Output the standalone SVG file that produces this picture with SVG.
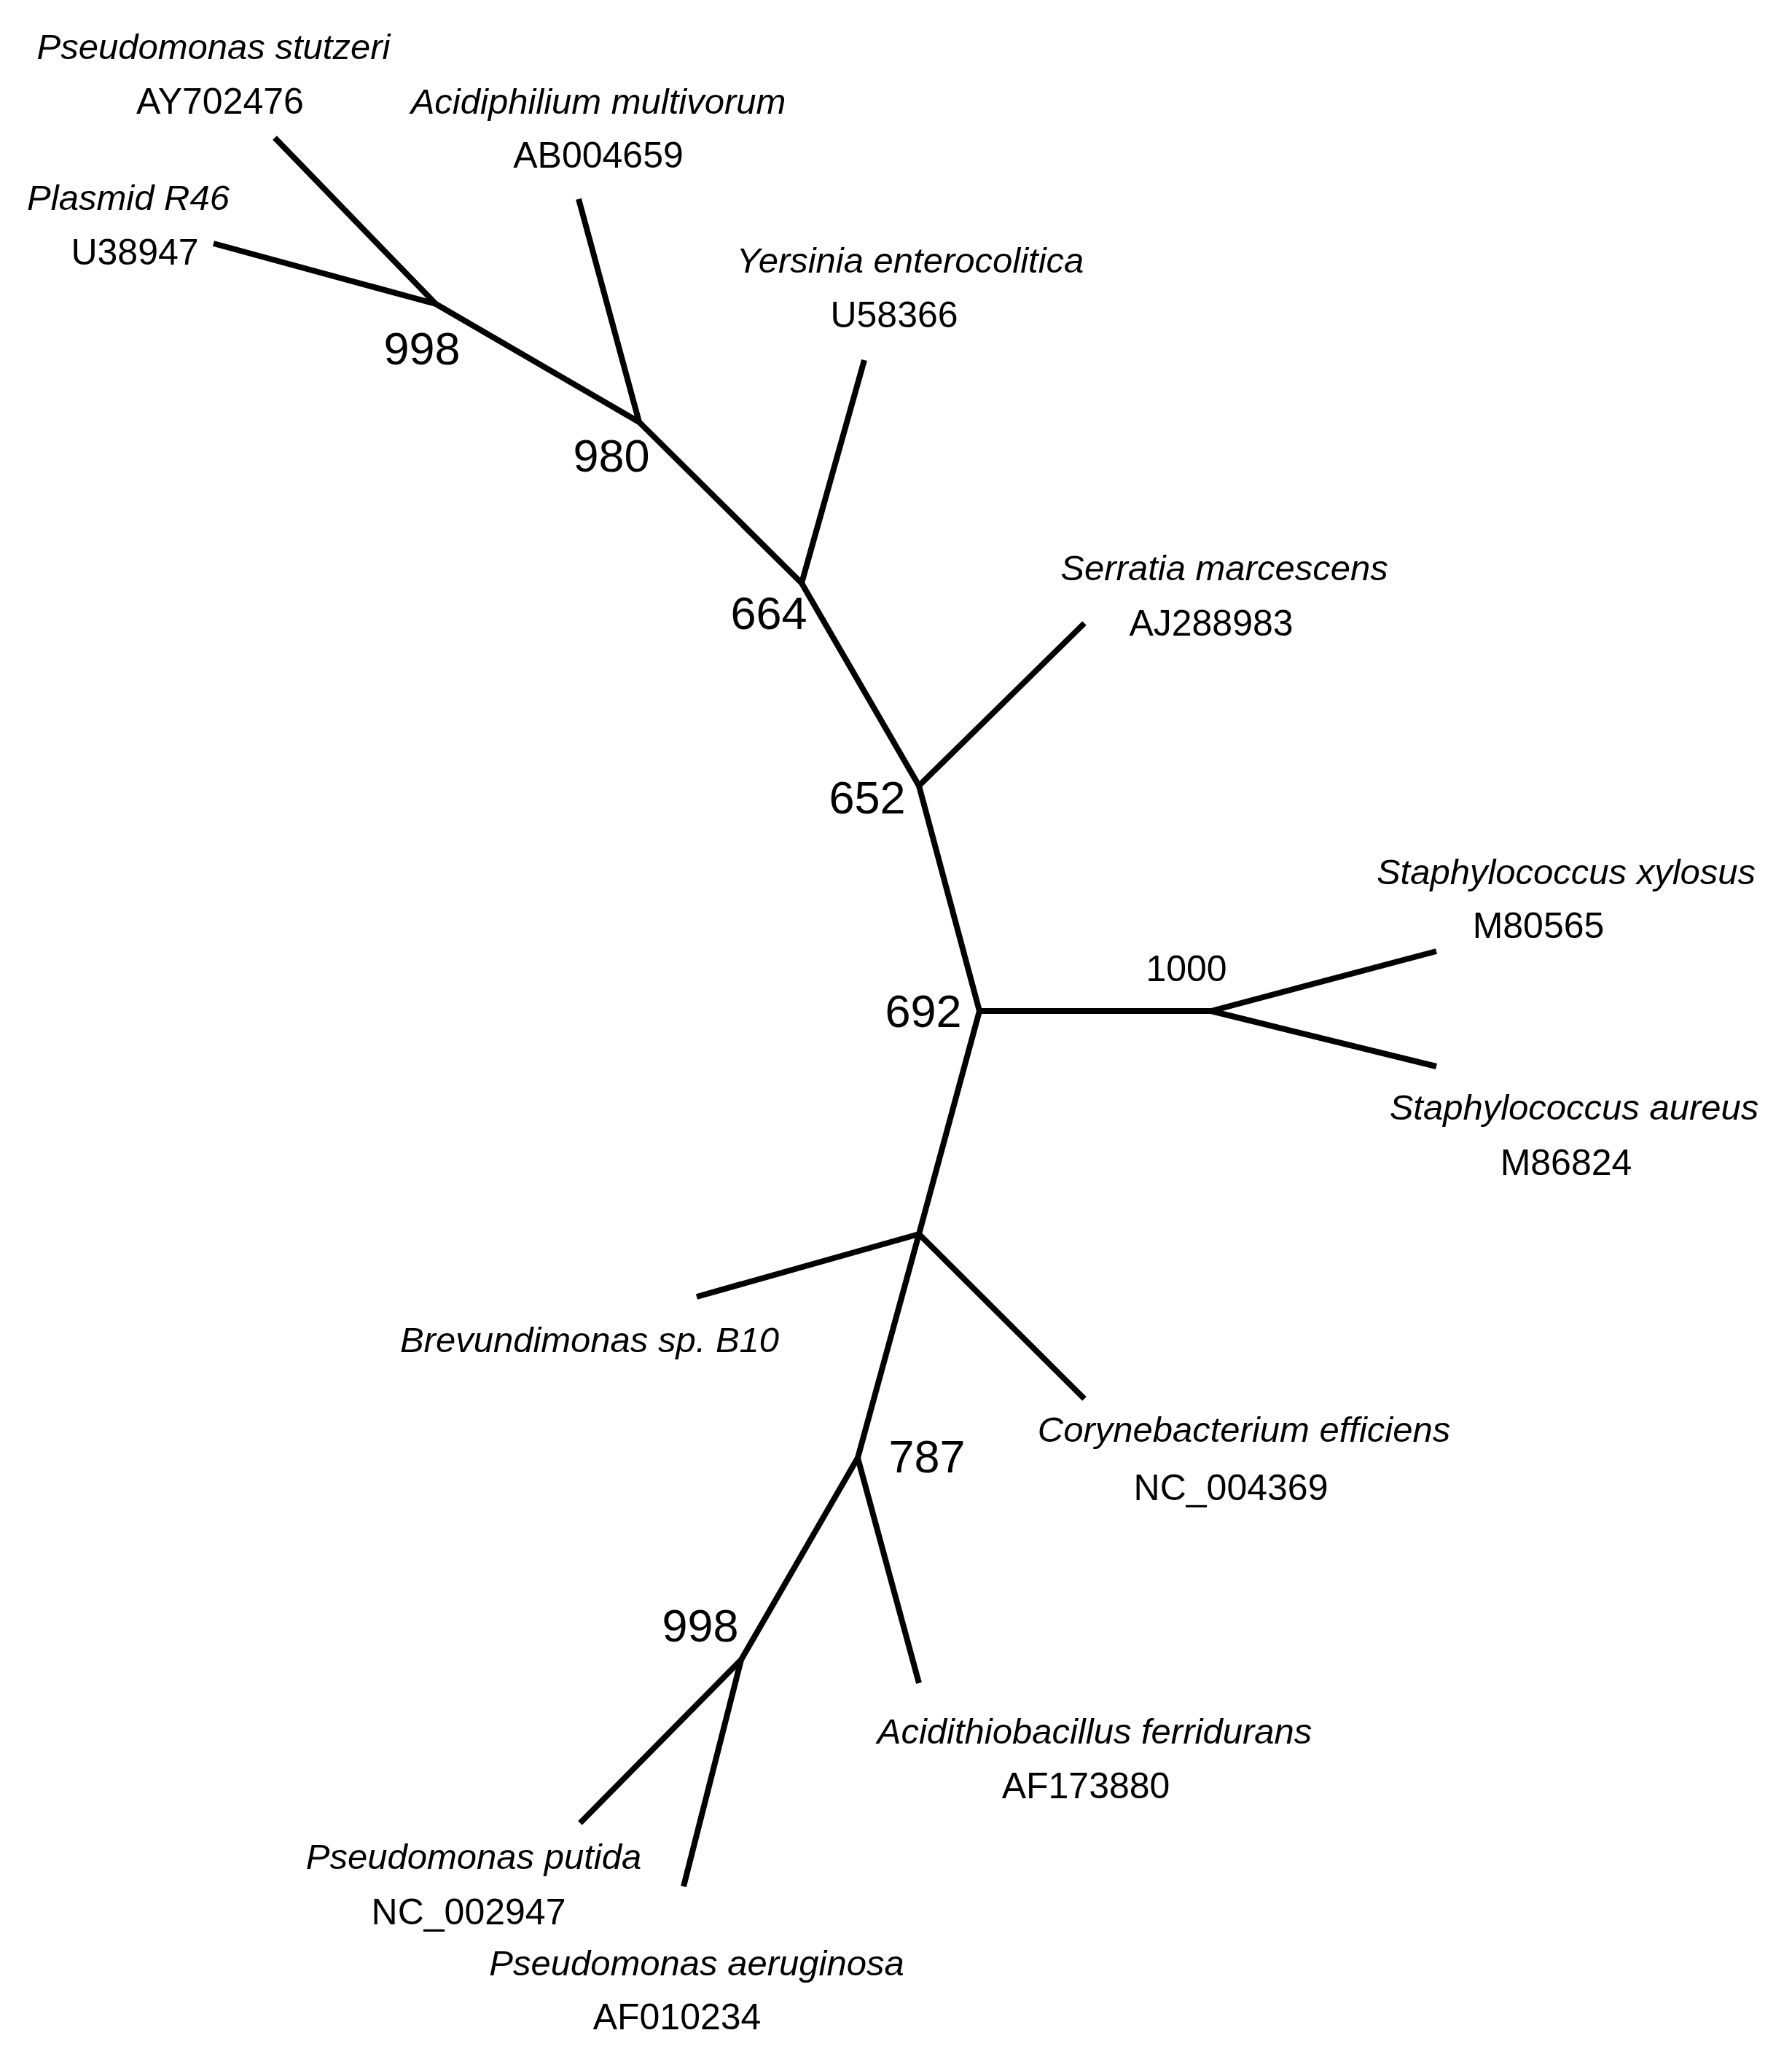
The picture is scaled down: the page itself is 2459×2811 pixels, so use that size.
<svg xmlns="http://www.w3.org/2000/svg" width="2459" height="2811" viewBox="0 0 2459 2811">
<style>
.e{stroke:#000;stroke-width:8;fill:none;stroke-linecap:butt}
.sp{font-family:"Liberation Sans",Arial,sans-serif;font-style:italic;font-size:49px;text-anchor:middle}
.ac{font-family:"Liberation Sans",Arial,sans-serif;font-size:50px;text-anchor:middle}
.bs{font-family:"Liberation Sans",Arial,sans-serif;font-size:63px;text-anchor:middle}
.sm{font-family:"Liberation Sans",Arial,sans-serif;font-size:50px;text-anchor:middle}
</style>
<rect width="2459" height="2811" fill="#fff"/>
<g id="connectors">
<line class="e" x1="377" y1="189" x2="598" y2="417"/>
<line class="e" x1="293" y1="334" x2="598" y2="417"/>
<line class="e" x1="598" y1="417" x2="877" y2="579"/>
<line class="e" x1="794" y1="273" x2="877" y2="579"/>
<line class="e" x1="877" y1="579" x2="1100" y2="800"/>
<line class="e" x1="1186" y1="494" x2="1100" y2="800"/>
<line class="e" x1="1100" y1="800" x2="1261" y2="1078"/>
<line class="e" x1="1488" y1="855" x2="1261" y2="1078"/>
<line class="e" x1="1261" y1="1078" x2="1344" y2="1387"/>
<line class="e" x1="1344" y1="1387" x2="1662" y2="1387"/>
<line class="e" x1="1662" y1="1387" x2="1971" y2="1305"/>
<line class="e" x1="1662" y1="1387" x2="1971" y2="1463"/>
<line class="e" x1="1344" y1="1387" x2="1261" y2="1693"/>
<line class="e" x1="1261" y1="1693" x2="956" y2="1779"/>
<line class="e" x1="1261" y1="1693" x2="1488" y2="1919"/>
<line class="e" x1="1261" y1="1693" x2="1177" y2="2000"/>
<line class="e" x1="1177" y1="2000" x2="1261" y2="2309"/>
<line class="e" x1="1177" y1="2000" x2="1017" y2="2277"/>
<line class="e" x1="1017" y1="2277" x2="796" y2="2501"/>
<line class="e" x1="1017" y1="2277" x2="938" y2="2588"/>
</g>
<g id="stutzeri"><text class="sp" x="293" y="81">Pseudomonas stutzeri</text><text class="ac" x="302" y="156">AY702476</text></g>
<g id="acidiphilium"><text class="sp" x="821" y="156">Acidiphilium multivorum</text><text class="ac" x="821" y="230">AB004659</text></g>
<g id="plasmid"><text class="sp" x="176" y="288">Plasmid R46</text><text class="ac" x="185" y="363">U38947</text></g>
<g id="yersinia"><text class="sp" x="1249" y="374">Yersinia enterocolitica</text><text class="ac" x="1227" y="449">U58366</text></g>
<g id="serratia"><text class="sp" x="1680" y="796">Serratia marcescens</text><text class="ac" x="1662" y="872">AJ288983</text></g>
<g id="sxylosus"><text class="sp" x="2149" y="1213">Staphylococcus xylosus</text><text class="ac" x="2111" y="1287">M80565</text></g>
<g id="saureus"><text class="sp" x="2160" y="1536">Staphylococcus aureus</text><text class="ac" x="2149" y="1612">M86824</text></g>
<g id="brev"><text class="sp" x="809" y="1855">Brevundimonas sp. B10</text></g>
<g id="coryne"><text class="sp" x="1707" y="1978">Corynebacterium efficiens</text><text class="ac" x="1689" y="2058">NC_004369</text></g>
<g id="acidithio"><text class="sp" x="1502" y="2392">Acidithiobacillus ferridurans</text><text class="ac" x="1490" y="2467">AF173880</text></g>
<g id="putida"><text class="sp" x="650" y="2564">Pseudomonas putida</text><text class="ac" x="643" y="2640">NC_002947</text></g>
<g id="aeruginosa"><text class="sp" x="956" y="2710">Pseudomonas aeruginosa</text><text class="ac" x="929" y="2784">AF010234</text></g>
<g id="n998a"><text class="bs" x="579" y="500">998</text></g>
<g id="n980"><text class="bs" x="839" y="647">980</text></g>
<g id="n664"><text class="bs" x="1055" y="863">664</text></g>
<g id="n652"><text class="bs" x="1190" y="1116">652</text></g>
<g id="n692"><text class="bs" x="1267" y="1409">692</text></g>
<g id="n1000"><text class="sm" x="1628" y="1346">1000</text></g>
<g id="n787"><text class="bs" x="1272" y="2020">787</text></g>
<g id="n998b"><text class="bs" x="961" y="2252">998</text></g>
</svg>
